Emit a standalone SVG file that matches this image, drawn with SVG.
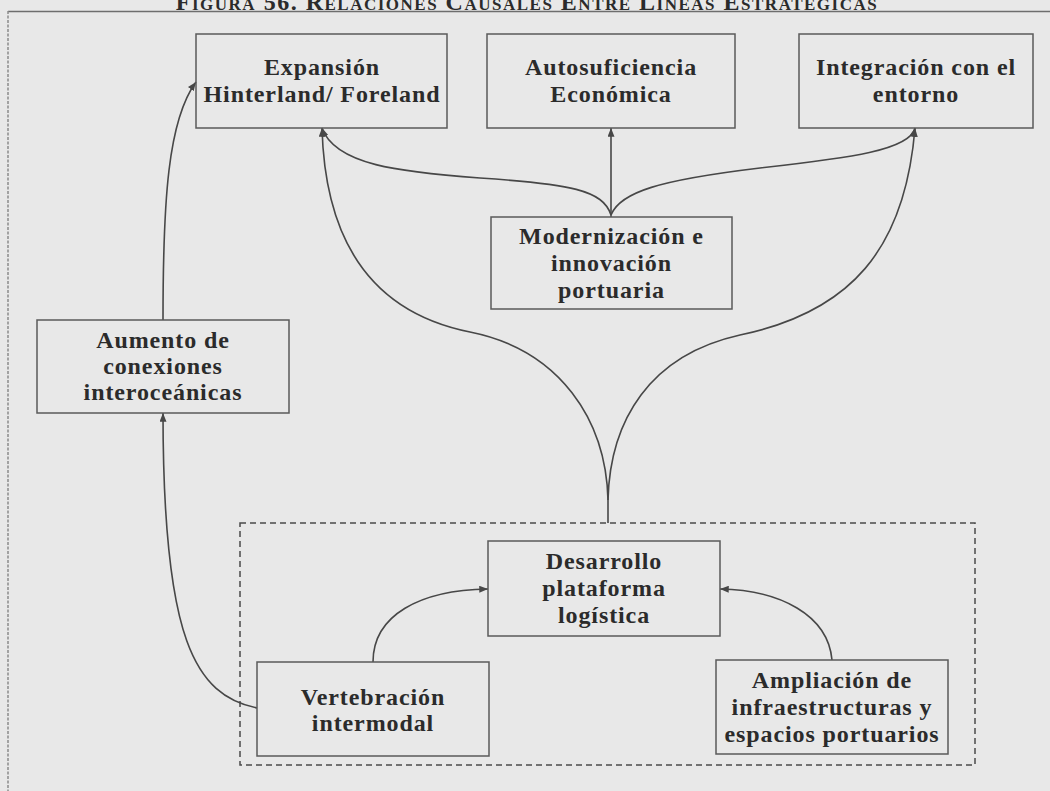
<svg xmlns="http://www.w3.org/2000/svg" width="1050" height="791" viewBox="0 0 1050 791">
  <style>
    .box { fill: none; stroke: #5a5a5a; stroke-width: 1.5; }
    .lbl { font-family: "Liberation Serif", "Times New Roman", serif; font-weight: bold; font-size: 24px; letter-spacing: 0.9px; fill: #2b2b2b; text-anchor: middle; }
    .edge { fill: none; stroke: #474747; stroke-width: 1.6; }
    .title { font-family: "Liberation Serif", "Times New Roman", serif; font-weight: bold; font-size: 24px; letter-spacing: 1.5px; font-variant: small-caps; fill: #2b2b2b; text-anchor: middle; }
  </style>
  <defs>
    <marker id="arrow" viewBox="0 0 10 8" refX="10" refY="4" markerWidth="9" markerHeight="7" markerUnits="userSpaceOnUse" orient="auto">
      <path d="M0,0 L10,4 L0,8 z" fill="#474747"/>
    </marker>
  </defs>

  <!-- page background -->
  <rect x="0" y="0" width="1050" height="791" fill="#e8e8e8"/>

  <!-- figure caption -->
  <text class="title" x="527" y="10">Figura 56. Relaciones Causales Entre Líneas Estratégicas</text>

  <!-- figure frame -->
  <g id="frame">
    <line x1="8" y1="11.5" x2="1050" y2="11.5" stroke="#6e6e6e" stroke-width="1.5"/>
    <line x1="8" y1="11" x2="8" y2="791" stroke="#8a8a8a" stroke-width="1.5" stroke-dasharray="3,1.5"/>
  </g>

  <!-- grouping of the logistics lines -->
  <rect id="grupo-logistica" x="240" y="523" width="735" height="242" fill="none" stroke="#4a4a4a" stroke-width="1.5" stroke-dasharray="6,4"/>

  <g id="connectors">
    <!-- lower fork: logistics group to Expansión / Integración -->
    <path class="edge" d="M608,523 L608,500"/>
    <path class="edge" marker-end="url(#arrow)" d="M608,500 C606,420 560,350 470,332 C370,312 325,240 322,128"/>
    <path class="edge" marker-end="url(#arrow)" d="M608,500 C610,420 650,355 740,335 C850,312 905,250 915,128"/>
    <!-- upper fork: Modernización to the three goals -->
    <path class="edge" marker-end="url(#arrow)" d="M611,217 L611,128"/>
    <path class="edge" marker-end="url(#arrow)" d="M611,215 C603,190 570,184 480,178 C400,172 335,165 322,128"/>
    <path class="edge" marker-end="url(#arrow)" d="M611,215 C620,192 660,180 760,168 C850,158 910,150 915,128"/>
    <!-- left chain -->
    <path class="edge" marker-end="url(#arrow)" d="M163,320 C163,200 168,120 196,82"/>
    <path class="edge" marker-end="url(#arrow)" d="M257,708 C195,695 163,640 163,413"/>
    <!-- inside the logistics group -->
    <path class="edge" marker-end="url(#arrow)" d="M373,662 C373,615 420,590 488,589"/>
    <path class="edge" marker-end="url(#arrow)" d="M832,660 C828,615 780,590 720,589"/>
  </g>

  <g id="expansion">
    <rect class="box" x="196" y="34" width="251" height="94"/>
    <text class="lbl" x="322" y="75">Expansión</text>
    <text class="lbl" x="322" y="102">Hinterland/ Foreland</text>
  </g>

  <g id="autosuficiencia">
    <rect class="box" x="487" y="34" width="248" height="94"/>
    <text class="lbl" x="611" y="75">Autosuficiencia</text>
    <text class="lbl" x="611" y="102">Económica</text>
  </g>

  <g id="integracion">
    <rect class="box" x="799" y="34" width="234" height="94"/>
    <text class="lbl" x="916" y="75">Integración con el</text>
    <text class="lbl" x="916" y="102">entorno</text>
  </g>

  <g id="modernizacion">
    <rect class="box" x="491" y="217" width="241" height="92"/>
    <text class="lbl" x="611.5" y="244">Modernización e</text>
    <text class="lbl" x="611.5" y="271">innovación</text>
    <text class="lbl" x="611.5" y="298">portuaria</text>
  </g>

  <g id="aumento">
    <rect class="box" x="37" y="320" width="252" height="93"/>
    <text class="lbl" x="163" y="348">Aumento de</text>
    <text class="lbl" x="163" y="374">conexiones</text>
    <text class="lbl" x="163" y="400">interoceánicas</text>
  </g>

  <g id="desarrollo">
    <rect class="box" x="488" y="541" width="232" height="95"/>
    <text class="lbl" x="604" y="569">Desarrollo</text>
    <text class="lbl" x="604" y="596">plataforma</text>
    <text class="lbl" x="604" y="623">logística</text>
  </g>

  <g id="vertebracion">
    <rect class="box" x="257" y="662" width="232" height="94"/>
    <text class="lbl" x="373" y="705">Vertebración</text>
    <text class="lbl" x="373" y="731">intermodal</text>
  </g>

  <g id="ampliacion">
    <rect class="box" x="716" y="660" width="232" height="94"/>
    <text class="lbl" x="832" y="688">Ampliación de</text>
    <text class="lbl" x="832" y="715">infraestructuras y</text>
    <text class="lbl" x="832" y="742">espacios portuarios</text>
  </g>
</svg>
